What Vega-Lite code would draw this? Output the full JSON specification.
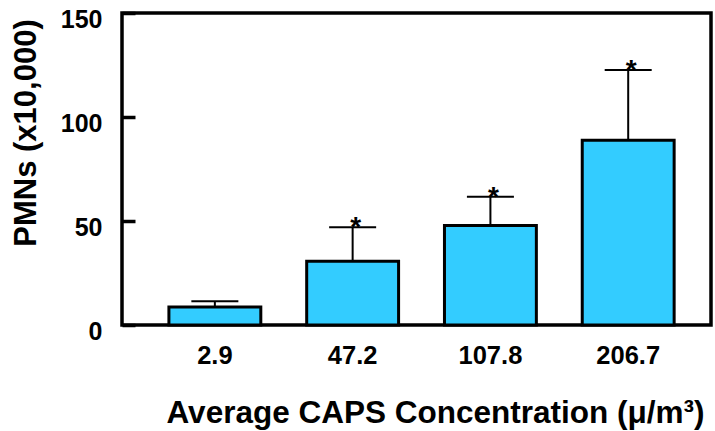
{
  "$schema": "https://vega.github.io/schema/vega-lite/v6.json",
  "width": 589,
  "height": 312,
  "autosize": "none",
  "padding": {"left": 122, "top": 13, "right": 4, "bottom": 106},
  "background": "white",
  "config": {
    "view": {"stroke": "black", "strokeWidth": 3.5},
    "font": "Liberation Sans"
  },
  "data": {
    "values": [
      {"conc": "2.9", "pmn": 8.7, "upper": 11.4, "sig": ""},
      {"conc": "47.2", "pmn": 30.6, "upper": 47.0, "sig": "*"},
      {"conc": "107.8", "pmn": 47.8, "upper": 61.7, "sig": "*"},
      {"conc": "206.7", "pmn": 88.8, "upper": 122.6, "sig": "*"}
    ]
  },
  "encoding": {
    "x": {
      "field": "conc",
      "type": "ordinal",
      "sort": null,
      "scale": {"paddingInner": 0.333, "paddingOuter": 0.304, "align": 0.56},
      "axis": {
        "title": "Average CAPS Concentration (μ/m³)",
        "labelAngle": 0,
        "ticks": false,
        "domain": false,
        "labelFont": "Liberation Sans",
        "labelFontSize": 25.5,
        "labelFontWeight": "bold",
        "labelColor": "black",
        "labelPadding": 18,
        "titleFont": "Liberation Sans",
        "titleFontSize": 31.5,
        "titleFontWeight": "bold",
        "titleColor": "black",
        "titleX": 313,
        "titleY": 97,
        "titleBaseline": "alphabetic",
        "titleAlign": "center"
      }
    }
  },
  "layer": [
    {
      "mark": {"type": "rule", "strokeWidth": 2, "color": "black"},
      "encoding": {
        "y": {
          "field": "pmn",
          "type": "quantitative",
          "title": "PMNs (x10,000)",
          "scale": {"domain": [0, 150], "nice": false},
          "axis": {
            "values": [0, 50, 100, 150],
            "domain": false,
            "grid": false,
            "tickSize": -13,
            "tickWidth": 3.5,
            "tickColor": "black",
            "labelFont": "Liberation Sans",
            "labelFontSize": 25,
            "labelFontWeight": "bold",
            "labelColor": "black",
            "labelPadding": 33,
            "labelOffset": 6.5,
            "titleFont": "Liberation Sans",
            "titleFontSize": 31,
            "titleFontWeight": "bold",
            "titleColor": "black",
            "titleX": -87,
            "titleY": 119.5,
            "titleAngle": 270,
            "titleAlign": "center",
            "titleBaseline": "alphabetic"
          }
        },
        "y2": {"field": "upper"}
      }
    },
    {
      "mark": {"type": "tick", "orient": "horizontal", "size": 47, "thickness": 2, "color": "black", "opacity": 1},
      "encoding": {
        "y": {"field": "upper", "type": "quantitative", "title": "PMNs (x10,000)"}
      }
    },
    {
      "mark": {"type": "bar", "fill": "#33CCFF", "stroke": "black", "strokeWidth": 3},
      "encoding": {
        "y": {"field": "pmn", "type": "quantitative", "title": "PMNs (x10,000)"}
      }
    },
    {
      "mark": {"type": "text", "font": "Liberation Sans", "fontSize": 28, "fontWeight": "bold", "baseline": "alphabetic", "dy": 9, "dx": 3, "color": "black"},
      "encoding": {
        "y": {"field": "upper", "type": "quantitative", "title": "PMNs (x10,000)"},
        "text": {"field": "sig"}
      }
    }
  ]
}
